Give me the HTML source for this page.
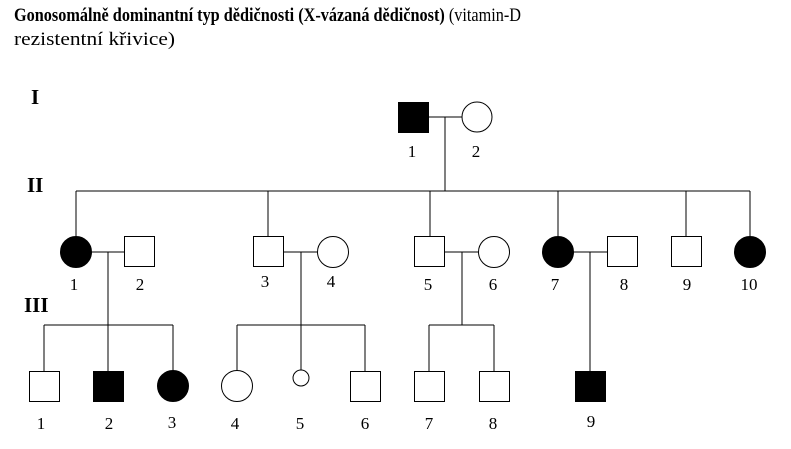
<!DOCTYPE html>
<html><head><meta charset="utf-8"><style>
html,body{margin:0;padding:0;background:#fff;}
svg{display:block;}
</style></head><body>
<svg width="791" height="449" viewBox="0 0 791 449" xmlns="http://www.w3.org/2000/svg">
<g font-family="Liberation Serif, serif" font-size="19" fill="#000">
<text x="14" y="21" textLength="507" lengthAdjust="spacingAndGlyphs"><tspan font-weight="bold">Gonosomálně dominantní typ dědičnosti (X-vázaná dědičnost)</tspan> (vitamin-D</text>
<text x="14" y="45" textLength="161" lengthAdjust="spacingAndGlyphs">rezistentní křivice)</text>
</g>
<g font-family="Liberation Serif, serif" font-size="21" font-weight="bold" fill="#000">
<text x="31" y="104">I</text>
<text x="27" y="192">II</text>
<text x="24" y="312">III</text>
</g>
<g stroke="#000" stroke-width="1" fill="none">
<line x1="429" y1="117" x2="462" y2="117"/>
<line x1="445" y1="117" x2="445" y2="191"/>
<line x1="76" y1="191" x2="750" y2="191"/>
<line x1="76" y1="191" x2="76" y2="236"/>
<line x1="268" y1="191" x2="268" y2="236"/>
<line x1="430" y1="191" x2="430" y2="236"/>
<line x1="558" y1="191" x2="558" y2="236"/>
<line x1="686" y1="191" x2="686" y2="236"/>
<line x1="750" y1="191" x2="750" y2="236"/>
<line x1="91" y1="252" x2="124" y2="252"/>
<line x1="108" y1="252" x2="108" y2="371"/>
<line x1="284" y1="252" x2="318" y2="252"/>
<line x1="301" y1="252" x2="301" y2="370"/>
<line x1="445" y1="252" x2="479" y2="252"/>
<line x1="462" y1="252" x2="462" y2="325"/>
<line x1="573" y1="252" x2="607" y2="252"/>
<line x1="590" y1="252" x2="590" y2="371"/>
<line x1="44" y1="325" x2="173" y2="325"/>
<line x1="44" y1="325" x2="44" y2="371"/>
<line x1="173" y1="325" x2="173" y2="371"/>
<line x1="237" y1="325" x2="365" y2="325"/>
<line x1="237" y1="325" x2="237" y2="371"/>
<line x1="365" y1="325" x2="365" y2="371"/>
<line x1="429" y1="325" x2="494" y2="325"/>
<line x1="429" y1="325" x2="429" y2="371"/>
<line x1="494" y1="325" x2="494" y2="371"/>
</g>
<g stroke="#000" stroke-width="1">
<rect x="398.5" y="102.5" width="30" height="30" fill="#000"/>
<circle cx="477" cy="117" r="15" fill="#fff"/>
<circle cx="76" cy="252" r="15.5" fill="#000"/>
<rect x="124.5" y="236.5" width="30" height="30" fill="#fff"/>
<rect x="253.5" y="236.5" width="30" height="30" fill="#fff"/>
<circle cx="333" cy="252" r="15.5" fill="#fff"/>
<rect x="414.5" y="236.5" width="30" height="30" fill="#fff"/>
<circle cx="494" cy="252" r="15.5" fill="#fff"/>
<circle cx="558" cy="252" r="15.5" fill="#000"/>
<rect x="607.5" y="236.5" width="30" height="30" fill="#fff"/>
<rect x="671.5" y="236.5" width="30" height="30" fill="#fff"/>
<circle cx="750" cy="252" r="15.5" fill="#000"/>
<rect x="29.5" y="371.5" width="30" height="30" fill="#fff"/>
<rect x="93.5" y="371.5" width="30" height="30" fill="#000"/>
<circle cx="173" cy="386" r="15.5" fill="#000"/>
<circle cx="237" cy="386" r="15.5" fill="#fff"/>
<circle cx="301" cy="378" r="8" fill="#fff"/>
<rect x="350.5" y="371.5" width="30" height="30" fill="#fff"/>
<rect x="414.5" y="371.5" width="30" height="30" fill="#fff"/>
<rect x="479.5" y="371.5" width="30" height="30" fill="#fff"/>
<rect x="575.5" y="371.5" width="30" height="30" fill="#000"/>
</g>
<g font-family="Liberation Serif, serif" font-size="17" fill="#000" text-anchor="middle">
<text x="412" y="157">1</text>
<text x="476" y="157">2</text>
<text x="74" y="290">1</text>
<text x="140" y="290">2</text>
<text x="265" y="287">3</text>
<text x="331" y="287">4</text>
<text x="428" y="290">5</text>
<text x="493" y="290">6</text>
<text x="555" y="290">7</text>
<text x="624" y="290">8</text>
<text x="687" y="290">9</text>
<text x="749" y="290">10</text>
<text x="41" y="429">1</text>
<text x="109" y="429">2</text>
<text x="172" y="428">3</text>
<text x="235" y="429">4</text>
<text x="300" y="429">5</text>
<text x="365" y="429">6</text>
<text x="429" y="429">7</text>
<text x="493" y="429">8</text>
<text x="591" y="427">9</text>
</g>
</svg>
</body></html>
